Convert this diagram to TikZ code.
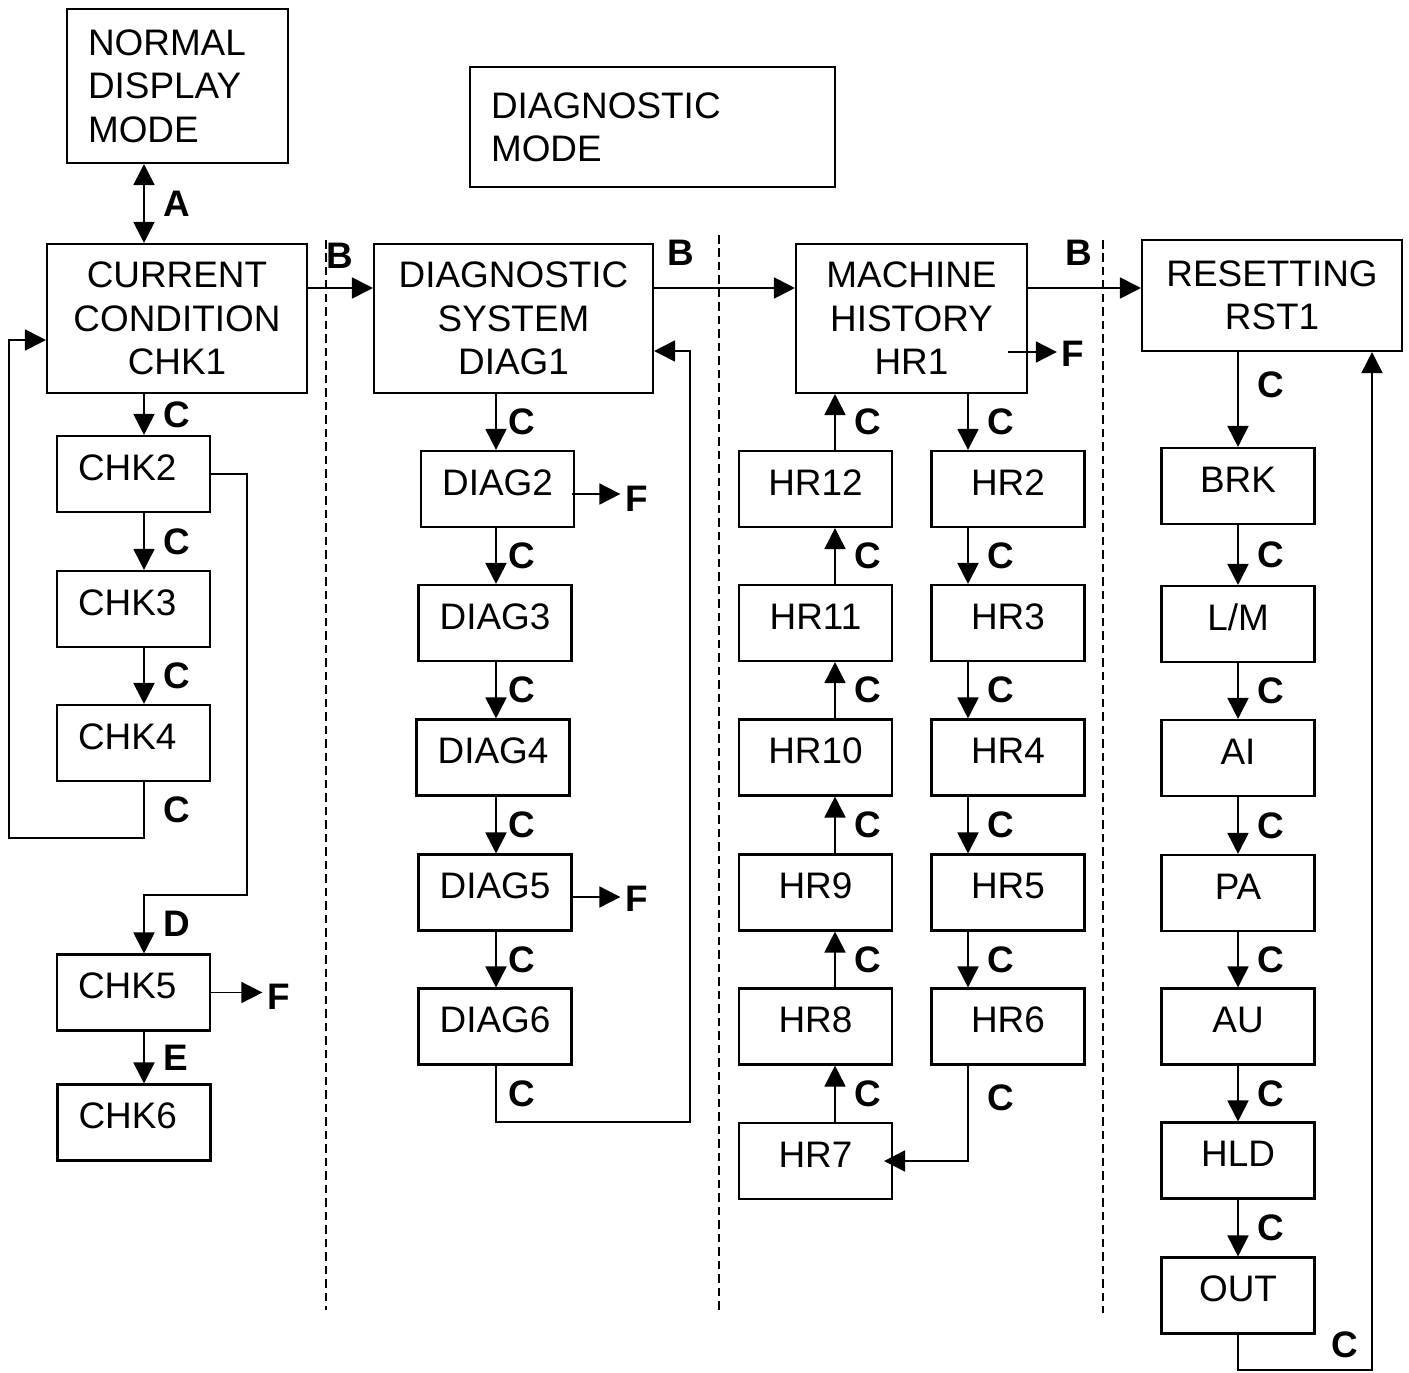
\documentclass[tikz,border=0pt]{standalone}
\usepackage{fontspec}
\setmainfont{Liberation Sans}
\usetikzlibrary{arrows.meta, positioning}

\begin{document}
\begin{tikzpicture}[x=0.02cm, y=-0.02cm,
    font=\fontsize{21}{24.7}\selectfont,
    >={Triangle[length=0.42cm, width=0.42cm]},
    box/.style={draw, line width=1.2pt, inner sep=0pt, align=center},
    bigbox/.style={box, minimum height=2.98cm},
    smallbox/.style={box, minimum width=3.06cm, minimum height=1.52cm, text depth=0.26cm},
    chkbox/.style={smallbox, align=left, text width=2.22cm, inner xsep=0.42cm},
    lbl/.style={font=\fontsize{21}{24.7}\selectfont\bfseries, inner sep=0pt},
    arr/.style={line width=1pt, ->},
    divider/.style={line width=1pt, dash pattern=on 0.17cm off 0.1cm}]
    \useasboundingbox (0,0) rectangle (1409,1372);

    % Mode boxes
    \node[box, align=left, text width=3.58cm, inner xsep=0.42cm, minimum height=3.08cm] (normal) at (177.5,86) {NORMAL\\DISPLAY\\MODE};
    \node[box, align=left, text width=6.46cm, inner xsep=0.42cm, minimum height=2.4cm] (diagmode) at (652.5,127) {DIAGNOSTIC\\MODE};

    % Top row
    \node[bigbox, minimum width=5.2cm] (chk1) at (177,318.5) {CURRENT\\CONDITION\\CHK1};
    \node[bigbox, minimum width=5.58cm] (diag1) at (513.5,318.5) {DIAGNOSTIC\\SYSTEM\\DIAG1};
    \node[bigbox, minimum width=4.62cm] (hr1) at (911.5,318.5) {MACHINE\\HISTORY\\HR1};
    \node[box, minimum width=5.2cm, minimum height=2.22cm] (rst1) at (1272,295.5) {RESETTING\\RST1};

    % Column CHK
    \node[chkbox] (chk2) at (133.5,474) {CHK2};
    \node[chkbox] (chk3) at (133.5,609) {CHK3};
    \node[chkbox] (chk4) at (133.5,743) {CHK4};
    \node[chkbox] (chk5) at (133.5,992.5) {CHK5};
    \node[chkbox] (chk6) at (134,1122.5) {CHK6};

    % Column DIAG
    \node[smallbox] (diag2) at (497.5,489) {DIAG2};
    \node[smallbox] (diag3) at (495,623) {DIAG3};
    \node[smallbox] (diag4) at (493,757.5) {DIAG4};
    \node[smallbox] (diag5) at (495,892.5) {DIAG5};
    \node[smallbox] (diag6) at (495,1026.5) {DIAG6};

    % Columns HR
    \node[smallbox] (hr12) at (815.5,489) {HR12};
    \node[smallbox] (hr11) at (815.5,623) {HR11};
    \node[smallbox] (hr10) at (815.5,757.5) {HR10};
    \node[smallbox] (hr9) at (815.5,892.5) {HR9};
    \node[smallbox] (hr8) at (815.5,1026.5) {HR8};
    \node[smallbox] (hr7) at (815.5,1161) {HR7};
    \node[smallbox] (hr2) at (1008,489) {HR2};
    \node[smallbox] (hr3) at (1008,623) {HR3};
    \node[smallbox] (hr4) at (1008,757.5) {HR4};
    \node[smallbox] (hr5) at (1008,892.5) {HR5};
    \node[smallbox] (hr6) at (1008,1026.5) {HR6};

    % Column RST
    \node[smallbox] (brk) at (1238,486) {BRK};
    \node[smallbox] (lm) at (1238,624) {L/M};
    \node[smallbox] (ai) at (1238,758) {AI};
    \node[smallbox] (pa) at (1238,893) {PA};
    \node[smallbox] (au) at (1238,1026.5) {AU};
    \node[smallbox] (hld) at (1238,1160.5) {HLD};
    \node[smallbox] (out) at (1238,1295.5) {OUT};

    % Dividers
    \draw[divider] (326,240) -- (326,1310);
    \draw[divider] (719,235) -- (719,1313);
    \draw[divider] (1103,240) -- (1103,1313);

    % Helper coordinates
    \coordinate (colA) at (144,0);
    \coordinate (colD) at (496,0);
    \coordinate (colHL) at (835,0);
    \coordinate (colHR) at (968,0);
    \coordinate (colR) at (1238,0);
    \coordinate (rowB) at (0,288);
    \coordinate (rowA) at (0,340);
    \coordinate (rowDiag) at (0,351);
    \coordinate (loopA) at (9,838);
    \coordinate (loopD) at (247,895);
    \coordinate (loopDiag) at (690,1122);
    \coordinate (loopR) at (1372,1370);
    \coordinate (d2f) at (572,494);
    \coordinate (d5f) at (570,897);
    \coordinate (hrf) at (1008,352);

    % F labels and B labels
    \node[lbl] (fchk5) at (278.5,997) {F};
    \node[lbl] (fdiag2) at (636.5,499) {F};
    \node[lbl] (fdiag5) at (636.5,899) {F};
    \node[lbl] (fhr1) at (1073,353.5) {F};
    \node[lbl] (b1) at (340,256) {B};
    \node[lbl] (b2) at (681,253) {B};
    \node[lbl] (b3) at (1079,253) {B};
    \node[lbl] (cout) at (1345,1345) {C};

    % A and B
    \draw[line width=1pt, <->] (normal.south -| colA) -- (chk1.north -| colA) node[lbl, midway, right=0.38cm] {A};
    \draw[arr] (chk1.east |- rowB) -- (diag1.west |- rowB);
    \draw[arr] (diag1.east |- rowB) -- (hr1.west |- rowB);
    \draw[arr] (hr1.east |- rowB) -- (rst1.west |- rowB);

    % CHK connectors
    \draw[arr] (chk1.south -| colA) -- (chk2.north -| colA) node[lbl, midway, right=0.38cm] {C};
    \draw[arr] (chk2.south -| colA) -- (chk3.north -| colA) node[lbl, midway, right=0.38cm] {C};
    \draw[arr] (chk3.south -| colA) -- (chk4.north -| colA) node[lbl, midway, right=0.38cm] {C};
    \draw[arr] (chk4.south -| colA) |- (loopA) node[lbl, pos=0.25, right=0.38cm] {C} |- (chk1.west |- rowA);
    \draw[arr] (chk2.east) -| (loopD) -| (chk5.north -| colA) node[lbl, pos=0.75, right=0.38cm] {D};
    \draw[arr] (chk5.south -| colA) -- (chk6.north -| colA) node[lbl, midway, right=0.38cm] {E};
    \draw[arr, shorten >=0.09cm] (chk5.east) -- (chk5.east -| fchk5.west);

    % DIAG connectors
    \draw[arr] (diag1.south -| colD) -- (diag2.north -| colD) node[lbl, midway, right=0.24cm] {C};
    \draw[arr] (diag2.south -| colD) -- (diag3.north -| colD) node[lbl, midway, right=0.24cm] {C};
    \draw[arr] (diag3.south -| colD) -- (diag4.north -| colD) node[lbl, midway, right=0.24cm] {C};
    \draw[arr] (diag4.south -| colD) -- (diag5.north -| colD) node[lbl, midway, right=0.24cm] {C};
    \draw[arr] (diag5.south -| colD) -- (diag6.north -| colD) node[lbl, midway, right=0.24cm] {C};
    \draw[arr] (diag6.south -| colD) |- (loopDiag) node[lbl, pos=0.25, right=0.24cm] {C} |- (diag1.east |- rowDiag);
    \draw[arr, shorten >=0.09cm] (d2f) -- (d2f -| fdiag2.west);
    \draw[arr, shorten >=0.09cm] (d5f) -- (d5f -| fdiag5.west);

    % HR connectors
    \draw[arr] (hr1.south -| colHR) -- (hr2.north -| colHR) node[lbl, midway, right=0.38cm] {C};
    \draw[arr] (hr2.south -| colHR) -- (hr3.north -| colHR) node[lbl, midway, right=0.38cm] {C};
    \draw[arr] (hr3.south -| colHR) -- (hr4.north -| colHR) node[lbl, midway, right=0.38cm] {C};
    \draw[arr] (hr4.south -| colHR) -- (hr5.north -| colHR) node[lbl, midway, right=0.38cm] {C};
    \draw[arr] (hr5.south -| colHR) -- (hr6.north -| colHR) node[lbl, midway, right=0.38cm] {C};
    \draw[arr, shorten >=-0.18cm] (hr6.south -| colHR) |- (hr7.east) node[lbl, pos=0.17, right=0.38cm] {C};
    \draw[arr] (hr7.north -| colHL) -- (hr8.south -| colHL) node[lbl, midway, right=0.38cm] {C};
    \draw[arr] (hr8.north -| colHL) -- (hr9.south -| colHL) node[lbl, midway, right=0.38cm] {C};
    \draw[arr] (hr9.north -| colHL) -- (hr10.south -| colHL) node[lbl, midway, right=0.38cm] {C};
    \draw[arr] (hr10.north -| colHL) -- (hr11.south -| colHL) node[lbl, midway, right=0.38cm] {C};
    \draw[arr] (hr11.north -| colHL) -- (hr12.south -| colHL) node[lbl, midway, right=0.38cm] {C};
    \draw[arr] (hr12.north -| colHL) -- (hr1.south -| colHL) node[lbl, midway, right=0.38cm] {C};
    \draw[arr, shorten >=0.09cm] (hrf) -- (hrf -| fhr1.west);

    % RST connectors
    \draw[arr] (rst1.south -| colR) -- (brk.north -| colR) node[lbl, pos=0.35, right=0.38cm] {C};
    \draw[arr] (brk.south -| colR) -- (lm.north -| colR) node[lbl, midway, right=0.38cm] {C};
    \draw[arr] (lm.south -| colR) -- (ai.north -| colR) node[lbl, midway, right=0.38cm] {C};
    \draw[arr] (ai.south -| colR) -- (pa.north -| colR) node[lbl, midway, right=0.38cm] {C};
    \draw[arr] (pa.south -| colR) -- (au.north -| colR) node[lbl, midway, right=0.38cm] {C};
    \draw[arr] (au.south -| colR) -- (hld.north -| colR) node[lbl, midway, right=0.38cm] {C};
    \draw[arr] (hld.south -| colR) -- (out.north -| colR) node[lbl, midway, right=0.38cm] {C};
    \draw[arr] (out.south -| colR) |- (loopR) -- (rst1.south -| loopR);
\end{tikzpicture}
\end{document}
